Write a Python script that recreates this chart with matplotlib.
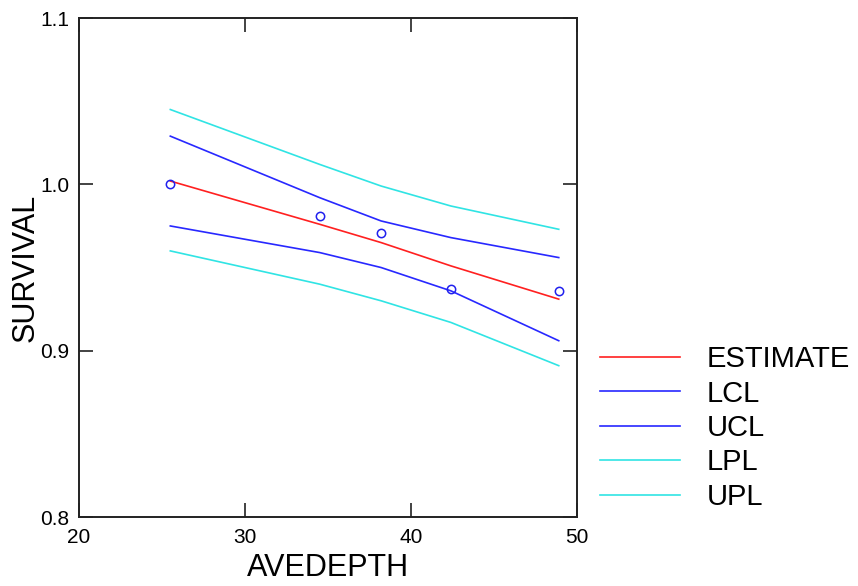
import matplotlib
matplotlib.use("Agg")
import matplotlib.pyplot as plt

# observed points
avedepth = [25.5, 34.5, 38.2, 42.4, 48.9]
survival = [1.000, 0.981, 0.971, 0.937, 0.936]

# fitted line and bands, read at each depth
estimate = [1.002, 0.976, 0.965, 0.951, 0.931]
lcl = [0.975, 0.959, 0.950, 0.936, 0.906]
ucl = [1.029, 0.992, 0.978, 0.968, 0.956]
lpl = [0.960, 0.940, 0.930, 0.917, 0.891]
upl = [1.045, 1.012, 0.999, 0.987, 0.973]

xticks = [20, 30, 40, 50]
yticks = [0.8, 0.9, 1.0, 1.1]

plt.rcParams["font.family"] = ["Liberation Sans", "DejaVu Sans"]

fig = plt.figure(figsize=(8.58, 5.86), dpi=100)
ax = fig.add_axes([0.0921, 0.1177, 0.5804, 0.8515])

lw = 1.2
ax.plot(avedepth, estimate, color="#ff2020", lw=lw, label="ESTIMATE")
ax.plot(avedepth, lcl, color="#2828ff", lw=lw, label="LCL")
ax.plot(avedepth, ucl, color="#2828ff", lw=lw, label="UCL")
ax.plot(avedepth, lpl, color="#30e4e4", lw=lw, label="LPL")
ax.plot(avedepth, upl, color="#30e4e4", lw=lw, label="UPL")
ax.plot(avedepth, survival, "o", ms=6, mfc="none", mec="#2020ee", mew=1.1)

ax.set_xlim(20, 50)
ax.set_ylim(0.8, 1.1)
ax.set_xticks(xticks)
ax.set_yticks(yticks)
ax.set_xticklabels([str(t) for t in xticks])
ax.set_yticklabels([f"{t:.1f}" for t in yticks])
ax.tick_params(direction="in", length=10, width=1.2, color="#222222",
               top=True, right=True, labelsize=15, pad=8)
ax.tick_params(axis="y", pad=7)
for s in ax.spines.values():
    s.set_linewidth(1.4)
    s.set_color("#222222")

ax.set_xlabel("AVEDEPTH", fontsize=22, labelpad=4)
ax.set_ylabel("SURVIVAL", fontsize=22, labelpad=0)

ax.legend(loc="upper left", bbox_to_anchor=(0.6997, 0.411),
          bbox_transform=fig.transFigure, frameon=False, fontsize=21,
          handlelength=2.74, handletextpad=0.92, labelspacing=0.22,
          borderaxespad=0, borderpad=0)

fig.savefig("out.png", dpi=100)
